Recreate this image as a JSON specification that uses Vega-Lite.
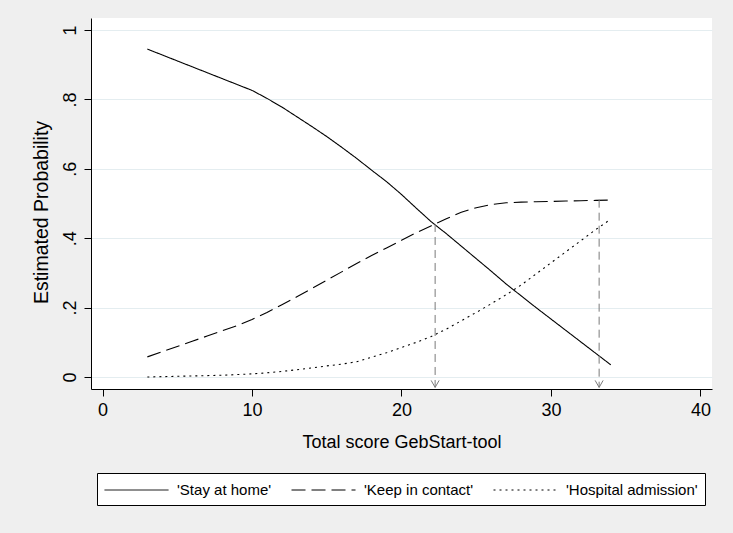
{
  "$schema": "https://vega.github.io/schema/vega-lite/v6.json",
  "autosize": {"type": "none"},
  "width": 621,
  "height": 371,
  "padding": {"left": 91, "top": 18, "right": 21, "bottom": 144},
  "background": "#efefef",
  "config": {
    "view": {"fill": "white", "stroke": null},
    "font": "Liberation Sans",
    "axis": {
      "domainColor": "black", "domainWidth": 1, "tickColor": "black", "tickSize": 7, "tickWidth": 1,
      "labelColor": "black", "titleColor": "black", "labelFont": "Liberation Sans", "titleFont": "Liberation Sans",
      "labelFontSize": 18, "titleFontSize": 18, "titleFontWeight": "normal", "gridColor": "#e4edf0", "gridWidth": 1
    },
    "legend": {
      "direction": "horizontal", "columns": 3, "strokeColor": "black", "fillColor": "white",
      "padding": 7, "columnPadding": 17, "labelOffset": 53, "labelFontSize": 15, "labelFont": "Liberation Sans",
      "labelColor": "black", "symbolType": "M-1,0L5.74,0", "symbolSize": 361, "symbolStrokeWidth": 1,
      "symbolStrokeColor": "black", "cornerRadius": 0
    }
  },
  "layer": [
    {
      "data": {"values": [
        {"score": 3, "prob": 0.945, "outcome": "'Stay at home'"},
        {"score": 4, "prob": 0.928, "outcome": "'Stay at home'"},
        {"score": 5, "prob": 0.911, "outcome": "'Stay at home'"},
        {"score": 6, "prob": 0.894, "outcome": "'Stay at home'"},
        {"score": 7, "prob": 0.877, "outcome": "'Stay at home'"},
        {"score": 8, "prob": 0.860, "outcome": "'Stay at home'"},
        {"score": 9, "prob": 0.843, "outcome": "'Stay at home'"},
        {"score": 10, "prob": 0.826, "outcome": "'Stay at home'"},
        {"score": 11, "prob": 0.803, "outcome": "'Stay at home'"},
        {"score": 12, "prob": 0.778, "outcome": "'Stay at home'"},
        {"score": 13, "prob": 0.750, "outcome": "'Stay at home'"},
        {"score": 14, "prob": 0.722, "outcome": "'Stay at home'"},
        {"score": 15, "prob": 0.693, "outcome": "'Stay at home'"},
        {"score": 16, "prob": 0.662, "outcome": "'Stay at home'"},
        {"score": 17, "prob": 0.630, "outcome": "'Stay at home'"},
        {"score": 18, "prob": 0.596, "outcome": "'Stay at home'"},
        {"score": 19, "prob": 0.563, "outcome": "'Stay at home'"},
        {"score": 20, "prob": 0.526, "outcome": "'Stay at home'"},
        {"score": 21, "prob": 0.486, "outcome": "'Stay at home'"},
        {"score": 22, "prob": 0.447, "outcome": "'Stay at home'"},
        {"score": 23, "prob": 0.413, "outcome": "'Stay at home'"},
        {"score": 24, "prob": 0.377, "outcome": "'Stay at home'"},
        {"score": 25, "prob": 0.341, "outcome": "'Stay at home'"},
        {"score": 26, "prob": 0.305, "outcome": "'Stay at home'"},
        {"score": 27, "prob": 0.268, "outcome": "'Stay at home'"},
        {"score": 28, "prob": 0.234, "outcome": "'Stay at home'"},
        {"score": 29, "prob": 0.200, "outcome": "'Stay at home'"},
        {"score": 30, "prob": 0.167, "outcome": "'Stay at home'"},
        {"score": 31, "prob": 0.134, "outcome": "'Stay at home'"},
        {"score": 32, "prob": 0.101, "outcome": "'Stay at home'"},
        {"score": 33, "prob": 0.068, "outcome": "'Stay at home'"},
        {"score": 34, "prob": 0.035, "outcome": "'Stay at home'"},
        {"score": 3, "prob": 0.058, "outcome": "'Keep in contact'"},
        {"score": 4, "prob": 0.073, "outcome": "'Keep in contact'"},
        {"score": 5, "prob": 0.088, "outcome": "'Keep in contact'"},
        {"score": 6, "prob": 0.103, "outcome": "'Keep in contact'"},
        {"score": 7, "prob": 0.118, "outcome": "'Keep in contact'"},
        {"score": 8, "prob": 0.133, "outcome": "'Keep in contact'"},
        {"score": 9, "prob": 0.148, "outcome": "'Keep in contact'"},
        {"score": 10, "prob": 0.166, "outcome": "'Keep in contact'"},
        {"score": 11, "prob": 0.186, "outcome": "'Keep in contact'"},
        {"score": 12, "prob": 0.208, "outcome": "'Keep in contact'"},
        {"score": 13, "prob": 0.231, "outcome": "'Keep in contact'"},
        {"score": 14, "prob": 0.255, "outcome": "'Keep in contact'"},
        {"score": 15, "prob": 0.279, "outcome": "'Keep in contact'"},
        {"score": 16, "prob": 0.303, "outcome": "'Keep in contact'"},
        {"score": 17, "prob": 0.327, "outcome": "'Keep in contact'"},
        {"score": 18, "prob": 0.350, "outcome": "'Keep in contact'"},
        {"score": 19, "prob": 0.372, "outcome": "'Keep in contact'"},
        {"score": 20, "prob": 0.394, "outcome": "'Keep in contact'"},
        {"score": 21, "prob": 0.416, "outcome": "'Keep in contact'"},
        {"score": 22, "prob": 0.436, "outcome": "'Keep in contact'"},
        {"score": 23, "prob": 0.456, "outcome": "'Keep in contact'"},
        {"score": 24, "prob": 0.475, "outcome": "'Keep in contact'"},
        {"score": 25, "prob": 0.488, "outcome": "'Keep in contact'"},
        {"score": 26, "prob": 0.497, "outcome": "'Keep in contact'"},
        {"score": 27, "prob": 0.502, "outcome": "'Keep in contact'"},
        {"score": 28, "prob": 0.504, "outcome": "'Keep in contact'"},
        {"score": 29, "prob": 0.505, "outcome": "'Keep in contact'"},
        {"score": 30, "prob": 0.506, "outcome": "'Keep in contact'"},
        {"score": 31, "prob": 0.507, "outcome": "'Keep in contact'"},
        {"score": 32, "prob": 0.508, "outcome": "'Keep in contact'"},
        {"score": 33, "prob": 0.509, "outcome": "'Keep in contact'"},
        {"score": 34, "prob": 0.510, "outcome": "'Keep in contact'"},
        {"score": 3, "prob": 0.000, "outcome": "'Hospital admission'"},
        {"score": 4, "prob": 0.001, "outcome": "'Hospital admission'"},
        {"score": 5, "prob": 0.002, "outcome": "'Hospital admission'"},
        {"score": 6, "prob": 0.003, "outcome": "'Hospital admission'"},
        {"score": 7, "prob": 0.004, "outcome": "'Hospital admission'"},
        {"score": 8, "prob": 0.005, "outcome": "'Hospital admission'"},
        {"score": 9, "prob": 0.007, "outcome": "'Hospital admission'"},
        {"score": 10, "prob": 0.009, "outcome": "'Hospital admission'"},
        {"score": 11, "prob": 0.012, "outcome": "'Hospital admission'"},
        {"score": 12, "prob": 0.016, "outcome": "'Hospital admission'"},
        {"score": 13, "prob": 0.021, "outcome": "'Hospital admission'"},
        {"score": 14, "prob": 0.026, "outcome": "'Hospital admission'"},
        {"score": 15, "prob": 0.032, "outcome": "'Hospital admission'"},
        {"score": 16, "prob": 0.037, "outcome": "'Hospital admission'"},
        {"score": 17, "prob": 0.044, "outcome": "'Hospital admission'"},
        {"score": 18, "prob": 0.057, "outcome": "'Hospital admission'"},
        {"score": 19, "prob": 0.070, "outcome": "'Hospital admission'"},
        {"score": 20, "prob": 0.085, "outcome": "'Hospital admission'"},
        {"score": 21, "prob": 0.100, "outcome": "'Hospital admission'"},
        {"score": 22, "prob": 0.117, "outcome": "'Hospital admission'"},
        {"score": 23, "prob": 0.138, "outcome": "'Hospital admission'"},
        {"score": 24, "prob": 0.162, "outcome": "'Hospital admission'"},
        {"score": 25, "prob": 0.186, "outcome": "'Hospital admission'"},
        {"score": 26, "prob": 0.211, "outcome": "'Hospital admission'"},
        {"score": 27, "prob": 0.237, "outcome": "'Hospital admission'"},
        {"score": 28, "prob": 0.265, "outcome": "'Hospital admission'"},
        {"score": 29, "prob": 0.297, "outcome": "'Hospital admission'"},
        {"score": 30, "prob": 0.329, "outcome": "'Hospital admission'"},
        {"score": 31, "prob": 0.361, "outcome": "'Hospital admission'"},
        {"score": 32, "prob": 0.393, "outcome": "'Hospital admission'"},
        {"score": 33, "prob": 0.425, "outcome": "'Hospital admission'"},
        {"score": 34, "prob": 0.455, "outcome": "'Hospital admission'"}
      ]},
      "mark": {"type": "line", "color": "black", "strokeWidth": 1.1},
      "encoding": {
        "x": {
          "field": "score", "type": "quantitative",
          "scale": {"domain": [-0.77, 40.77], "nice": false, "zero": false},
          "axis": {"values": [0, 10, 20, 30, 40], "grid": false, "title": "Total score GebStart-tool", "labelPadding": 5, "titlePadding": 14}
        },
        "y": {
          "field": "prob", "type": "quantitative",
          "scale": {"domain": [-0.0346, 1.0346], "nice": false, "zero": false},
          "axis": {
            "values": [0, 0.2, 0.4, 0.6, 0.8, 1], "grid": true, "title": "Estimated Probability", "titleFontSize": 19.5,
            "titleY": 194,
            "labelAngle": -90, "labelAlign": "center", "labelBaseline": "bottom", "labelPadding": 5, "titlePadding": 10,
            "labelExpr": "datum.value == 0 ? '0' : datum.value == 1 ? '1' : replace(format(datum.value, '.1f'), '0.', '.')"
          }
        },
        "strokeDash": {
          "field": "outcome", "type": "nominal",
          "scale": {"domain": ["'Stay at home'", "'Keep in contact'", "'Hospital admission'"], "range": [[1, 0], [14, 6], [2, 4]]},
          "legend": {"title": null, "orient": "none", "legendX": 6, "legendY": 455}
        }
      }
    },
    {
      "data": {"values": [
        {"x": 22.25, "ytop": 0.441, "ybot": -0.03},
        {"x": 33.22, "ytop": 0.511, "ybot": -0.03}
      ]},
      "layer": [
        {
          "mark": {"type": "rule", "color": "#7a7a7a", "strokeWidth": 1, "strokeDash": [8, 5]},
          "encoding": {
            "x": {"field": "x", "type": "quantitative"},
            "y": {"field": "ytop", "type": "quantitative"},
            "y2": {"field": "ybot"}
          }
        },
        {
          "mark": {"type": "point", "shape": "M-0.8,-1.4L0,0L0.8,-1.4", "filled": false, "stroke": "#7a7a7a", "strokeWidth": 1, "size": 100, "opacity": 1},
          "encoding": {
            "x": {"field": "x", "type": "quantitative"},
            "y": {"field": "ybot", "type": "quantitative"}
          }
        }
      ]
    }
  ]
}
